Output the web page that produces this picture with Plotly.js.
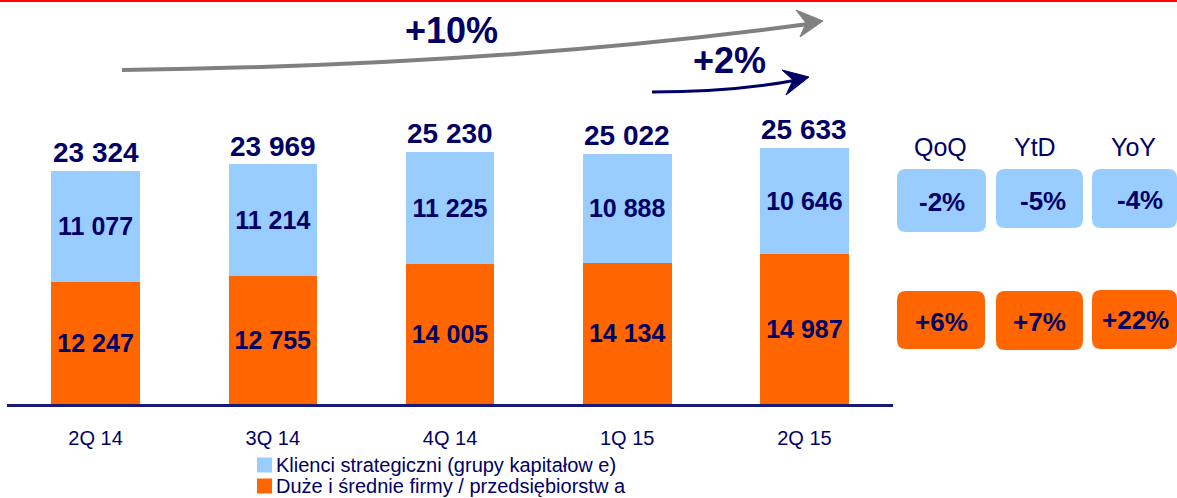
<!DOCTYPE html>
<html>
<head>
<meta charset="utf-8">
<script src="https://cdn.plot.ly/plotly-3.0.1.min.js"></script>
<style>
  html, body { margin: 0; padding: 0; background: #ffffff; }
  #chart { width: 1177px; height: 498px; }
</style>
</head>
<body>
<div id="chart"></div>
<script>
// ---- data ----
const categories = ['2Q 14', '3Q 14', '4Q 14', '1Q 15', '2Q 15'];
const strategicClients = [11077, 11214, 11225, 10888, 10646];
const largeMediumFirms = [12247, 12755, 14005, 14134, 14987];
const seriesNames = ['Klienci strategiczni (grupy kapitałow e)', 'Duże i średnie firmy / przedsiębiorstw a'];
const changeHeaders = ['QoQ', 'YtD', 'YoY'];
const strategicChanges = ['-2%', '-5%', '-4%'];
const firmsChanges = ['+6%', '+7%', '+22%'];
const growthLabels = ['+10%', '+2%'];

// ---- styles ----
const FONT = 'Liberation Sans, Arial, sans-serif';
const NAVY = '#000066';
const BLUE = '#99CCFF';
const ORANGE = '#FF6600';

const totals = strategicClients.map((v, i) => v + largeMediumFirms[i]);
const fmt = v => String(v).replace(/\B(?=(\d{3})+(?!\d))/g, ' ');

// pixel -> paper conversion (plot area: left 7, width 886, top 0, height 404)
const L = 7, W = 886, T = 0, H = 404;
const px = x => (x - L) / W;
const py = y => (T + H - y) / H;
const P = (x, y) => px(x) + ',' + py(y);

function roundRect(x0, x1, y0, y1, r) {
  return 'M' + P(x0 + r, y0) + ' L' + P(x1 - r, y0) + ' Q' + P(x1, y0) + ' ' + P(x1, y0 + r) +
         ' L' + P(x1, y1 - r) + ' Q' + P(x1, y1) + ' ' + P(x1 - r, y1) +
         ' L' + P(x0 + r, y1) + ' Q' + P(x0, y1) + ' ' + P(x0, y1 - r) +
         ' L' + P(x0, y0 + r) + ' Q' + P(x0, y0) + ' ' + P(x0 + r, y0) + ' Z';
}

const traces = [
  {
    type: 'bar', name: seriesNames[1], x: categories, y: largeMediumFirms,
    marker: { color: ORANGE }, width: 0.5,
    text: largeMediumFirms.map(fmt), textposition: 'inside', insidetextanchor: 'middle',
    textangle: 0, constraintext: 'none',
    insidetextfont: { family: FONT, size: 25, color: NAVY, weight: 'bold' },
    showlegend: false
  },
  {
    type: 'bar', name: seriesNames[0], x: categories, y: strategicClients,
    marker: { color: BLUE }, width: 0.5,
    text: strategicClients.map(fmt), textposition: 'inside', insidetextanchor: 'middle',
    textangle: 0, constraintext: 'none',
    insidetextfont: { family: FONT, size: 25, color: NAVY, weight: 'bold' },
    showlegend: false
  }
];

const annotations = [];
const shapes = [];

// totals above bars
categories.forEach((c, i) => {
  annotations.push({
    x: c, y: totals[i], xref: 'x', yref: 'y', text: fmt(totals[i]), showarrow: false,
    yanchor: 'middle', yshift: 18,
    font: { family: FONT, size: 28, color: NAVY, weight: 'bold' }
  });
});

// top red line
shapes.push({ type: 'line', xref: 'paper', yref: 'paper', x0: px(0), x1: px(1177), y0: py(1), y1: py(1),
  line: { color: '#FF0000', width: 2 } });

// growth arrows
shapes.push({ type: 'path', xref: 'paper', yref: 'paper',
  path: 'M' + P(122, 70) + ' C' + P(360, 67) + ' ' + P(600, 52) + ' ' + P(808, 24),
  line: { color: '#808080', width: 4 } });
shapes.push({ type: 'path', xref: 'paper', yref: 'paper',
  path: 'M' + P(823, 21) + ' L' + P(796, 10) + ' L' + P(806, 23) + ' L' + P(800, 37) + ' Z',
  fillcolor: '#808080', line: { color: '#808080', width: 1 } });
shapes.push({ type: 'path', xref: 'paper', yref: 'paper',
  path: 'M' + P(652, 92) + ' C' + P(710, 92) + ' ' + P(755, 88) + ' ' + P(797, 80),
  line: { color: '#000066', width: 3 } });
shapes.push({ type: 'path', xref: 'paper', yref: 'paper',
  path: 'M' + P(809, 77) + ' L' + P(782, 70) + ' L' + P(793, 80) + ' L' + P(786, 95) + ' Z',
  fillcolor: '#000066', line: { color: '#000066', width: 1 } });
annotations.push({ xref: 'paper', yref: 'paper', x: px(452), y: py(31), text: growthLabels[0],
  showarrow: false, xanchor: 'center', yanchor: 'middle',
  font: { family: FONT, size: 36, color: NAVY, weight: 'bold' } });
annotations.push({ xref: 'paper', yref: 'paper', x: px(729), y: py(60), text: growthLabels[1],
  showarrow: false, xanchor: 'center', yanchor: 'middle',
  font: { family: FONT, size: 36, color: NAVY, weight: 'bold' } });

// change boxes
const headerX = [940, 1035, 1133];
const blueBoxes = [[897, 986, 169, 232], [996, 1083, 169, 228], [1092, 1177, 169, 228]];
const orangeBoxes = [[897, 985, 291, 349], [996, 1083, 291, 350], [1092, 1177, 290, 349]];
const blueTextPos = [[942, 202], [1043, 201], [1140, 200]];
const orangeTextPos = [[941, 322], [1039, 322], [1135, 320]];
changeHeaders.forEach((h, i) => {
  annotations.push({ xref: 'paper', yref: 'paper', x: px(headerX[i]), y: py(147), text: h,
    showarrow: false, xanchor: 'center', yanchor: 'middle',
    font: { family: FONT, size: 25, color: NAVY } });
  const b = blueBoxes[i], o = orangeBoxes[i];
  shapes.push({ type: 'path', xref: 'paper', yref: 'paper', path: roundRect(b[0], b[1], b[2], b[3], 9),
    fillcolor: BLUE, line: { width: 0 } });
  shapes.push({ type: 'path', xref: 'paper', yref: 'paper', path: roundRect(o[0], o[1], o[2], o[3], 9),
    fillcolor: ORANGE, line: { width: 0 } });
  annotations.push({ xref: 'paper', yref: 'paper', x: px(blueTextPos[i][0]), y: py(blueTextPos[i][1]),
    text: strategicChanges[i], showarrow: false, xanchor: 'center', yanchor: 'middle',
    font: { family: FONT, size: 26, color: NAVY, weight: 'bold' } });
  annotations.push({ xref: 'paper', yref: 'paper', x: px(orangeTextPos[i][0]), y: py(orangeTextPos[i][1]),
    text: firmsChanges[i], showarrow: false, xanchor: 'center', yanchor: 'middle',
    font: { family: FONT, size: 26, color: NAVY, weight: 'bold' } });
});

// legend (drawn manually)
const legendColors = [BLUE, ORANGE];
const legendY = [465, 486];
seriesNames.forEach((n, i) => {
  shapes.push({ type: 'rect', xref: 'paper', yref: 'paper',
    x0: px(257), x1: px(272), y0: py(legendY[i] - 7.5), y1: py(legendY[i] + 7.5),
    fillcolor: legendColors[i], line: { width: 0 } });
  annotations.push({ xref: 'paper', yref: 'paper', x: px(275), y: py(legendY[i]), text: n,
    showarrow: false, xanchor: 'left', yanchor: 'middle', borderpad: 0,
    font: { family: FONT, size: 20, color: NAVY } });
});

const layout = {
  width: 1177, height: 498, autosize: false,
  margin: { l: L, r: 1177 - L - W, t: T, b: 498 - T - H, pad: 0 },
  paper_bgcolor: '#ffffff', plot_bgcolor: '#ffffff',
  barmode: 'stack',
  showlegend: false,
  font: { family: FONT, color: NAVY },
  xaxis: {
    type: 'category', range: [-0.5, 4.5],
    showline: true, linecolor: '#1A1A75', linewidth: 2.5,
    ticks: '', showgrid: false, zeroline: false,
    tickfont: { family: FONT, size: 20, color: NAVY },
    ticklabelstandoff: 14
  },
  yaxis: {
    range: [0, 40400], visible: false, showgrid: false, zeroline: false
  },
  shapes: shapes,
  annotations: annotations
};

Plotly.newPlot('chart', traces, layout, { staticPlot: true, displayModeBar: false });
</script>
</body>
</html>
